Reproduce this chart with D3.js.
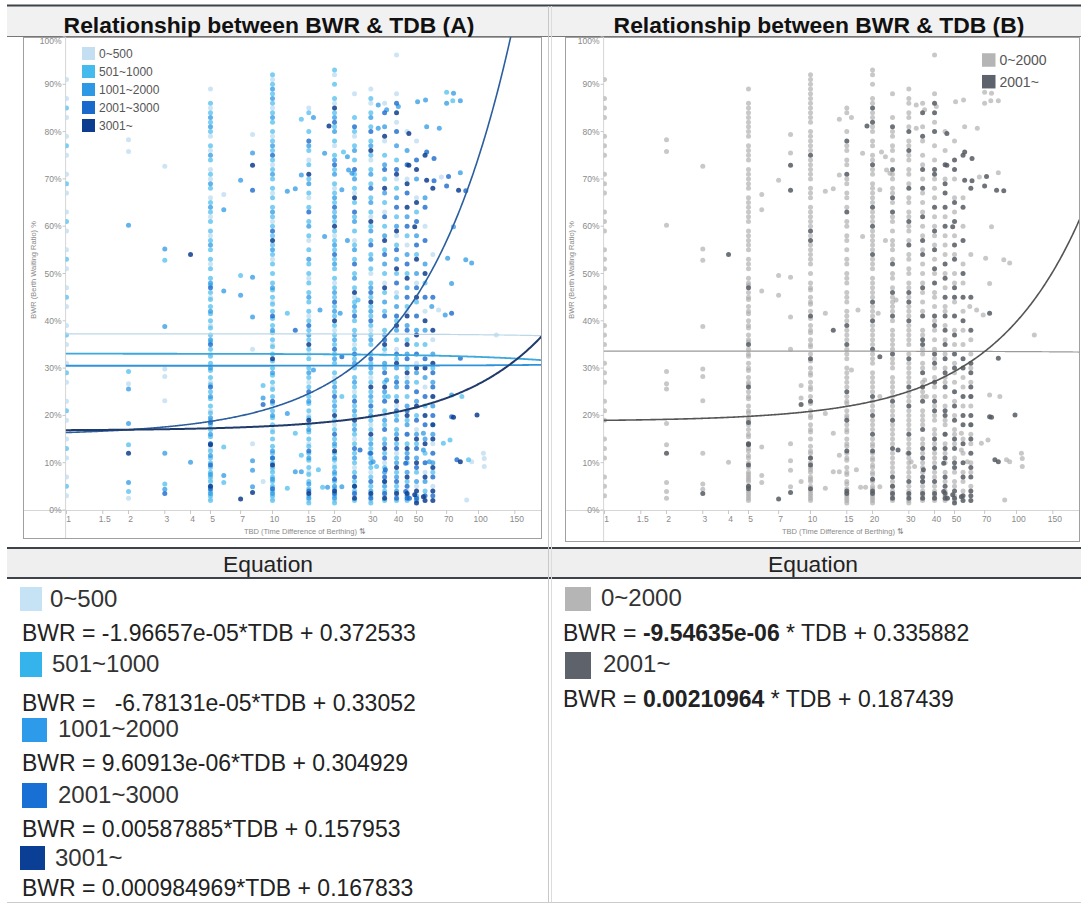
<!DOCTYPE html>
<html><head><meta charset="utf-8">
<script src="https://cdn.jsdelivr.net/npm/d3@7"></script>
<style>
html,body{margin:0;padding:0;background:#fff;}
svg{display:block;}
text{font-family:"Liberation Sans",Arial,sans-serif;}
</style></head><body>
<svg id="c" width="1081" height="903"></svg>
<script>
// ---------------- DATA ----------------
const titles = ["Relationship between BWR & TDB (A)", "Relationship between BWR & TDB (B)"];
const groupsA = ["0~500","501~1000","1001~2000","2001~3000","3001~"];
const groupsB = ["0~2000","2001~"];
const groupMapB = [0,0,0,1,1];           // which B group each A group belongs to
const slopesA = [-1.96657e-05, -6.78131e-05, 9.60913e-06, 0.00587885, 0.000984969];
const interceptsA = [0.372533, 0.33052, 0.304929, 0.157953, 0.167833];
const slopesB = [-9.54635e-06, 0.00210964];
const interceptsB = [0.335882, 0.187439];
const eqTextA = ["BWR = -1.96657e-05*TDB + 0.372533","BWR =   -6.78131e-05*TDB + 0.33052","BWR = 9.60913e-06*TDB + 0.304929","BWR = 0.00587885*TDB + 0.157953","BWR = 0.000984969*TDB + 0.167833"];
const eqPartsB = [["BWR = ","-9.54635e-06"," * TDB + 0.335882"],["BWR = ","0.00210964"," * TDB + 0.187439"]];
const xTickValues = [1,1.5,2,3,4,5,7,10,15,20,30,40,50,70,100,150];
const yTickValues = [0,0.1,0.2,0.3,0.4,0.5,0.6,0.7,0.8,0.9,1.0];
const xTitle = "TBD (Time Difference of Berthing) \u21C5";
const yTitle = "BWR (Berth Waiting Ratio) %";

// points: [TDB, [BWR % ...]]
const pts0_500 = [
 [1,[3,7,11,15,19,23,27,31,35,39,43,47,51,55,59,63,67,71,75,79,83,87,91]],
 [2,[78.3,75.8,26.7,2.5]],
 [3,[72.7,29.8,28.2,23.1]],
 [5,[2.5,6.5,13,21,27,33,39,45,52,58,62,66,70,72,76,79,85,89]],
 [5.8,[66.7]],
 [8,[79.4,34,14]],
 [9,[6]],
 [10,[2.5,8.5,17,26,35,44,53,61,67,73,79,85,91]],
 [15,[2,8,14,20,27,33,41,49,57,66,74,85]],
 [20,[2,9.5,18,28,38,48,58,68,77,86,92]],
 [25,[3,9,15,25,35,45,57,67,79,88]],
 [30,[2,8,18,28,38,50,62,74,86,89]],
 [35,[3,10,20,33,48,63,78,86]],
 [40,[3,12,22,34,46,58,70,82,88,96.2]],
 [45,[4,16,28,42,56,70,80]],
 [50,[5,17,31,48,66,78]],
 [55,[8,26,42,60]],
 [60,[5,14,24,36,54]],
 [64,[42.3]],[66,[70.4]],[87.6,[2.1]],[92.6,[10.2]],[105.6,[12]],[106.6,[10.9,9.2]],[122,[37]]
];
const pts501_1000 = [
 [1,[5,13,21,29,37,45,53,61,69,77,85]],
 [2,[29.3,13.8,3.9]],
 [3,[52.8,5.5]],
 [5,[2,3,4,5,6,7,8,9,10,11,12.5,14,15.5,17,18,19,20.5,22,23.5,25,26.5,28,29.5,31,32.5,34,35.5,37,38.5,40,41.5,43,44.5,46,47.5,49,51,53,55,57,59,61,63,65,68,71,74,77,80,82,84,86]],
 [5.8,[13.3,5.8]],
 [7,[49.6]],
 [9,[26.3]],
 [10,[2,3,4,5,6,7,8,9,10,11,12,13.5,15,16.5,18,19.5,21,22.5,24,25.5,27,28.5,30,31.5,33,34.5,36,37.5,39,40.5,42,43.5,45,46.5,48,50,52,54,56,58,60,62,64,66,68,70,72,74,76,78,80,82,84,86,88,90,92]],
 [11.8,[41.6,4.6]],
 [12.9,[16.2]],
 [13.8,[82.6,11.6]],
 [15,[1.5,3,4.5,6,7.5,9,10.5,12,13.5,15,16.5,18,19.5,21,22.5,24,26,28,30,32,34,36,38,40,42,44,46,48,50,52,55,58,61,64,67,70,73,76,80,84]],
 [16.7,[8.5]],
 [17.5,[4.8]],
 [20,[1.5,3,4.5,6,7.5,9,10.5,12,13.5,15,17,19,21,23,25,27,29,31,33,35,37,39,41,43,45,47,49,51,53,55,57,59,61,63,65,67,69,72,75,78,81,84,87,90,93]],
 [21.7,[24]],
 [22.1,[75.7]],
 [25,[2,4,6,8,10,12,14,16,18,20,22,24,26,28,30,32,34,36,38,40,42,44,47,50,53,56,59,62,65,68,71,74,77,80,83]],
 [26,[44.4]],
 [30,[1.5,3,5,7,9,11,13,15,17,19,21,23,25,27,29,31,33,35,37,39,41,43,45,48,51,54,57,60,63,66,69,72,75,78,81,84,87]],
 [32,[9.2]],
 [35,[2,4,6,9,12,15,18,21,24,27,30,34,38,42,46,50,55,60,65,70,75]],
 [36.5,[24]],
 [40,[2,5,8,11,14,17,20,24,28,32,36,40,45,50,56,62,68,74]],
 [45,[2,6,10,14,19,24,30,36,43,50,58]],
 [50,[3,8,14,20,27,35,44,54,63]],
 [55,[4,12,22,35,48]],
 [60,[8,18,30]],
 [67.5,[14.1]],[70,[88.3]],[72.7,[14.8]],[75,[86.5]],[83,[24]],[89.4,[10.6]]
];
const pts1001_2000 = [
 [2,[60.2,25.6,18.3,5.8]],
 [3,[55.2,38.8,12,4.4]],
 [4,[10.1]],
 [5,[3.5,7.5,11.5,16,19.5,24,30,36,42,48,56,64,69,75,81,83]],
 [5.8,[63.5,46.3,7.3]],
 [7,[69.7,45.4]],
 [8,[75.5,49.2,40.8,10.4,8.4,4.9]],
 [9,[23.7]],
 [10,[3.5,6.5,12.5,20,29,38,47,55,63,71,77,83,87,89]],
 [11.8,[67.4,20.4]],
 [12.9,[67.9,8.1]],
 [13.8,[70.8,8.1]],
 [15,[2.5,5.5,11,17,23,29,37,45,53,60,69,77]],
 [15.8,[83,29.6]],
 [17,[42.3]],
 [17.9,[75.4,57.8]],
 [18.5,[4.8]],
 [20,[2.5,5,8,11,14,22,26,32,36,42,46,52,56,62,66,71,74,80,83]],
 [21.3,[41.6]],
 [21.7,[67.7,4.9]],
 [23.1,[74.7,57]],
 [23.4,[71.9]],
 [24.3,[71.2]],
 [25,[5,11,17,21,27,31,37,43,49,55,61,70,76]],
 [29.7,[12]],
 [30,[4,10,14,20,24,30,36,42,47,53,59,65,71,77,83]],
 [30.8,[10.2]],
 [32.6,[85.6,80.7]],
 [35,[5,8,14,19,25,31,37,44,52,58,67,73,81]],
 [35.8,[84.6,27.5]],
 [40,[4,7,10,16,19,26,30,38,43,53,60,66,77]],
 [40.8,[85.3]],
 [45,[3,8,12,18,22,27,33,39,47,54,62,76]],
 [50,[2,6,11,16,23,29,38,50,58,70]],
 [50.6,[86.3]],
 [54,[16.2,12.7]],
 [55,[6,15,28,38,52,66]],
 [55.3,[86.7]],
 [56,[81]],
 [57.7,[10.2]],
 [59.3,[43]],
 [60,[10,16,22,27,33]],
 [64.5,[80.7]],[68.9,[41.2]],[70,[86]],[70.8,[53.2]],[74,[47.9,24.3]],[75.6,[59.9,88.1]],[81.6,[71.3,86.5]],[86.7,[52.9]],[92.6,[52.2]]
];
const pts2001_3000 = [
 [3,[3.5]],
 [5,[4.5,9.5,14,18.5,26,35,47]],
 [8,[67.6]],
 [9,[22.3]],
 [10,[4.5,11,23,41,59,75]],
 [12.9,[38]],
 [15,[4,12.5,25,39,63,78]],
 [20,[3.5,6.5,16,24,34,44,54,64,73,82]],
 [21.7,[32.4]],
 [25,[3.5,7,13,23,33,41,52,63,72,81]],
 [26.6,[12.7]],
 [30,[2.5,6,12,22,32,40,46,56,68,80]],
 [35,[3.5,7,11,17,23,29,36,41,54,62,72,84]],
 [35.3,[8.5]],
 [40,[2.5,6,13,21,27,33,41,48,55,64,72,80,86]],
 [44.3,[3.9,9.9]],
 [45,[2.5,5,11,16,21,26,32,38,45,52,60,67,73]],
 [46.2,[2.5]],
 [50,[2.5,9,13,19,25,33,41,47,56,61,74]],
 [55,[3,10,18,24,32,45,57,64]],
 [56,[75.7]],
 [60,[3,7,12,20,26,29,45]],
 [60.8,[74.3,69.6]],
 [70,[68.5]],[71.5,[70.5]],[74,[41.6,19.7]],[78.5,[10.6]],[81.6,[32.1]],[86.7,[67.5]]
];
const pts3001 = [
 [2,[12]],
 [4,[54]],
 [5,[13.8,5]],
 [7,[2.3]],
 [8,[72.9,3.7]],
 [10,[9.5,32,57]],
 [15,[3.5,19,35,71]],
 [18.8,[81.2]],
 [20,[4,12.5,20,40,60,85]],
 [25,[2.5,5,19,46,66]],
 [30,[3.5,16,26,44,61,76]],
 [35,[2.5,6,13,26,35,47,57,68,79]],
 [40,[3.5,9,15,23,31,39,51,59,71,84]],
 [45,[3.5,7,13,20,29,35,41,49,64,69]],
 [45.9,[79.6,72.9]],
 [49,[3.2,59.9]],
 [50,[1.5,4,10,15,22,30,37,45,53,65,72]],
 [54,[2.8]],
 [55,[2,7,14,20,30,40,50,75]],
 [56,[69.7]],
 [60,[2,4,9,15,18,24,31,38,68]],
 [75.6,[19.6]],[80,[67.6]],[81.6,[10.2]],[98.3,[20.1]]
];
const seriesA = [pts0_500, pts501_1000, pts1001_2000, pts2001_3000, pts3001];

// ---------------- STYLE ----------------
const pointColorsA = ["#c3dff1","#45baec","#2d98e4","#1a6acc","#0d3d8e"];
const pointOpacA = [0.85,0.7,0.75,0.8,0.85];
const lineColorsA = ["#bcd7e8","#3ba8de","#2f92da","#2a5e9f","#1f3a6b"];
const lineWidthsA = [1.2,1.8,1.8,1.6,2];
const pointColorsB = ["#aaaaaa","#555a62"];
const pointOpacB = [0.65,0.85];
const lineColorsB = ["#9a9a9a","#555555"];
const lineWidthsB = [1.2,1.6];
const swatchA = ["#c6e3f5","#35b4eb","#2d9be9","#1870d4","#0b3e95"];
const swatchB = ["#b5b5b5","#5d626b"];

const svg = d3.select("#c");

// ---------------- TABLE FRAME ----------------
svg.append("rect").attr("x",7).attr("y",6).attr("width",1074).attr("height",30).attr("fill","#f1f1f1");
svg.append("line").attr("x1",7).attr("x2",1081).attr("y1",5.5).attr("y2",5.5).attr("stroke","#3d4349").attr("stroke-width",2);
svg.append("line").attr("x1",7).attr("x2",1081).attr("y1",36.5).attr("y2",36.5).attr("stroke","#777").attr("stroke-width",1);
svg.selectAll("text.title").data(titles).join("text").attr("class","title")
  .attr("x",(d,i)=> i===0 ? 269 : 819).attr("y",33).attr("text-anchor","middle")
  .attr("font-size",22.9).attr("font-weight","bold").attr("fill","#111").text(d=>d);

// equation header
svg.append("rect").attr("x",7).attr("y",549).attr("width",1074).attr("height",29).attr("fill","#efefef");
svg.append("line").attr("x1",7).attr("x2",1081).attr("y1",548).attr("y2",548).attr("stroke","#3d4349").attr("stroke-width",2);
svg.append("line").attr("x1",7).attr("x2",1081).attr("y1",578).attr("y2",578).attr("stroke","#3d4349").attr("stroke-width",2);
svg.selectAll("text.eqh").data(["Equation","Equation"]).join("text").attr("class","eqh")
  .attr("x",(d,i)=> i===0 ? 268 : 813).attr("y",572).attr("text-anchor","middle")
  .attr("font-size",22.8).attr("fill","#222").text(d=>d);
// column divider
svg.append("line").attr("x1",548.5).attr("x2",548.5).attr("y1",6).attr("y2",903).attr("stroke","#c8c8c8");
svg.append("line").attr("x1",551.5).attr("x2",551.5).attr("y1",6).attr("y2",903).attr("stroke","#dcdcdc");
svg.append("line").attr("x1",7).attr("x2",1081).attr("y1",902.5).attr("y2",902.5).attr("stroke","#ccc");

// ---------------- CHART ----------------
function flatten(series, gi) {
  const out = [];
  series.forEach(([t, vals]) => vals.forEach(v => out.push({t, v: v/100, g: gi})));
  return out;
}

function drawChart(ox, frameLeft, frameBottom, points, colors, opac, lines, legend, id) {
  const g = svg.append("g");
  const x = d3.scaleLog().domain([0.99, 201]).range([ox + 65.6, ox + 541]);
  const y = d3.scaleLinear().domain([0, 1]).range([510, 37]);
  g.append("rect").attr("x", frameLeft + 0.5).attr("y", 37.5).attr("width", ox + 541 - frameLeft).attr("height", frameBottom - 37)
    .attr("fill", "#fff").attr("stroke", "#a0a0a0");
  g.append("line").attr("x1", x(0.99)).attr("x2", x(0.99)).attr("y1", 37).attr("y2", frameBottom).attr("stroke", "#d6d6d6");
  g.append("line").attr("x1", frameLeft + 1).attr("x2", ox + 541).attr("y1", y(0) + 0.5).attr("y2", y(0) + 0.5).attr("stroke", "#d6d6d6");
  const ya = g.append("g");
  yTickValues.forEach(v => {
    ya.append("line").attr("x1", x(0.99) - 3).attr("x2", x(0.99)).attr("y1", y(v)).attr("y2", y(v)).attr("stroke", "#c8c8c8");
    ya.append("text").attr("x", x(0.99) - 4).attr("y", Math.max(y(v) + 3, 44)).attr("text-anchor", "end")
      .attr("font-size", 8.5).attr("fill", "#8a8a8a").text(d3.format(".0%")(v));
  });
  xTickValues.forEach(v => {
    g.append("line").attr("x1", x(v)).attr("x2", x(v)).attr("y1", y(0)).attr("y2", y(0) + 4).attr("stroke", "#c8c8c8");
    g.append("text").attr("x", x(v) + 2).attr("y", 522).attr("text-anchor", "middle")
      .attr("font-size", 8.5).attr("fill", "#8a8a8a").text(v);
  });
  g.append("text").attr("x", ox + 305).attr("y", 534).attr("text-anchor", "middle")
    .attr("font-size", 7.5).attr("fill", "#8a8a8a").text(xTitle);
  g.append("text").attr("transform", `translate(${ox + 36},270) rotate(-90)`).attr("text-anchor", "middle")
    .attr("font-size", 7.5).attr("fill", "#8a8a8a").text(yTitle);
  svg.append("clipPath").attr("id", id).append("rect")
    .attr("x", x(0.99)).attr("y", 37).attr("width", ox + 541 - x(0.99)).attr("height", y(0) - 37 + 2);
  const pg = g.append("g").attr("clip-path", `url(#${id})`);
  pg.selectAll("circle").data(points).join("circle")
    .attr("cx", d => x(d.t)).attr("cy", d => y(d.v)).attr("r", 2.5)
    .attr("fill", d => colors[d.g]).attr("fill-opacity", d => opac[d.g]);
  const lx = d3.range(Math.log10(0.99), Math.log10(201) + 0.005, 0.005).map(e => Math.pow(10, e));
  lines.forEach(L => {
    pg.append("path").attr("d", d3.line().x(t => x(t)).y(t => y(L.a * t + L.b))(lx))
      .attr("fill", "none").attr("stroke", L.c).attr("stroke-width", L.w);
  });
  const lg = g.append("g");
  legend.items.forEach((name, i) => {
    const cy = legend.y0 + i * legend.dy;
    lg.append("rect").attr("x", legend.x).attr("y", cy - legend.s / 2).attr("width", legend.s).attr("height", legend.s).attr("fill", legend.colors[i]);
    lg.append("text").attr("x", legend.x + legend.s + 4).attr("y", cy + legend.fs * 0.36).attr("font-size", legend.fs).attr("fill", "#555").text(name);
  });
}

const pointsA = seriesA.flatMap((s, i) => flatten(s, i));
const pointsB = seriesA.flatMap((s, i) => flatten(s, groupMapB[i]));
pointsB.sort((a, b) => a.g - b.g);

drawChart(0, 23, 538, pointsA, pointColorsA, pointOpacA,
  groupsA.map((_, i) => ({a: slopesA[i], b: interceptsA[i], c: lineColorsA[i], w: lineWidthsA[i]})),
  {items: groupsA, colors: pointColorsA, x: 82, y0: 53.5, dy: 18, s: 13, fs: 12}, "clipA");
drawChart(538, 565, 541, pointsB, pointColorsB, pointOpacB,
  groupsB.map((_, i) => ({a: slopesB[i], b: interceptsB[i], c: lineColorsB[i], w: lineWidthsB[i]})),
  {items: groupsB, colors: swatchB, x: 982, y0: 60, dy: 21.7, s: 13.5, fs: 14}, "clipB");

// ---------------- EQUATIONS ----------------
const eqA = svg.append("g");
const labelPosA = [[20,587,22,24,50,607],[20,652,22,25,52,672],[22,718,25,24,58,737],[22,783,25,25,58,803],[20,846,25,24,55,866]];
const eqBaseA = [641,711,771,837,896];
groupsA.forEach((name, i) => {
  const p = labelPosA[i];
  eqA.append("rect").attr("x", p[0]).attr("y", p[1]).attr("width", p[2]).attr("height", p[3]).attr("fill", swatchA[i]);
  eqA.append("text").attr("x", p[4]).attr("y", p[5]).attr("font-size", 24).attr("fill", "#333").text(name);
  eqA.append("text").attr("x", 22).attr("y", eqBaseA[i]).attr("font-size", 23).attr("fill", "#222")
    .style("white-space", "pre").text(eqTextA[i]);
});
const eqB = svg.append("g");
const labelPosB = [[565,587,26,24,601,606],[565,652,26,27,603,672]];
const eqBaseB = [641,707];
groupsB.forEach((name, i) => {
  const p = labelPosB[i];
  eqB.append("rect").attr("x", p[0]).attr("y", p[1]).attr("width", p[2]).attr("height", p[3]).attr("fill", swatchB[i]);
  eqB.append("text").attr("x", p[4]).attr("y", p[5]).attr("font-size", 24).attr("fill", "#333").text(name);
  const t = eqB.append("text").attr("x", 563).attr("y", eqBaseB[i]).attr("font-size", 23).attr("fill", "#222").style("white-space", "pre");
  eqPartsB[i].forEach((s, k) => t.append("tspan").attr("font-weight", k === 1 ? "bold" : "normal").text(s));
});
</script>
</body></html>
